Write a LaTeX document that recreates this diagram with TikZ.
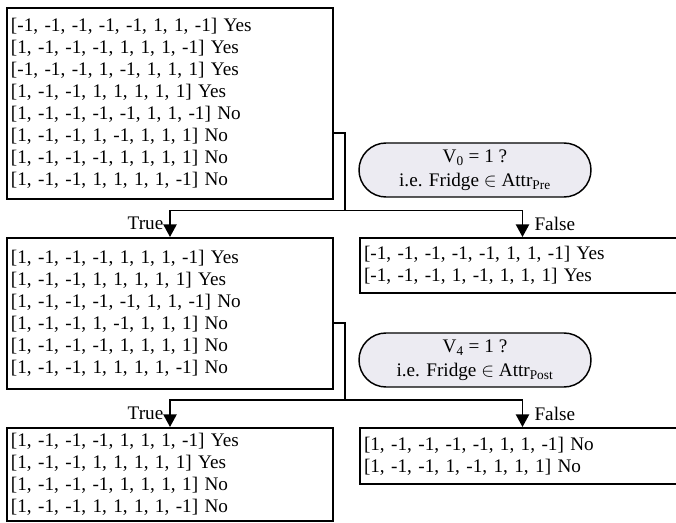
\documentclass[tikz,border=0pt]{standalone}
\usepackage{fontspec}
\setmainfont{Liberation Serif}
\usetikzlibrary{arrows.meta}

\definecolor{pillgray}{RGB}{236,235,242}

\begin{document}
\begin{tikzpicture}[x=0.75pt,y=-0.75pt,
    font=\fontsize{14.4}{16.5}\selectfont,
    set/.style={draw,line width=1.5pt,anchor=north west,align=left,
      inner xsep=3pt,inner ysep=0pt},
    test/.style={draw,line width=1.1pt,fill=pillgray,align=center,
      minimum width=174pt,minimum height=40.5pt,rounded corners=20.25pt,
      font=\fontsize{14.4}{18}\selectfont},
    wire/.style={line width=1.1pt},
    flow/.style={line width=1.1pt,-{Triangle[width=10pt,length=9.5pt]}},
    lbl/.style={inner sep=1pt}]
  \useasboundingbox (0,0) rectangle (676,523);

  % sets of samples
  \node[set,text width=238.5pt,minimum height=143.25pt] (A) at (6,7)
    {{[}-1, -1, -1, -1, -1, 1, 1, -1] Yes\\
     {[}1, -1, -1, -1, 1, 1, 1, -1] Yes\\
     {[}-1, -1, -1, 1, -1, 1, 1, 1] Yes\\
     {[}1, -1, -1, 1, 1, 1, 1, 1] Yes\\
     {[}1, -1, -1, -1, -1, 1, 1, -1] No\\
     {[}1, -1, -1, 1, -1, 1, 1, 1] No\\
     {[}1, -1, -1, -1, 1, 1, 1, 1] No\\
     {[}1, -1, -1, 1, 1, 1, 1, -1] No};
  \node[set,text width=238.5pt,minimum height=113.25pt] (B) at (6,237)
    {{[}1, -1, -1, -1, 1, 1, 1, -1] Yes\\
     {[}1, -1, -1, 1, 1, 1, 1, 1] Yes\\
     {[}1, -1, -1, -1, -1, 1, 1, -1] No\\
     {[}1, -1, -1, 1, -1, 1, 1, 1] No\\
     {[}1, -1, -1, -1, 1, 1, 1, 1] No\\
     {[}1, -1, -1, 1, 1, 1, 1, -1] No};
  \node[set,text width=237.75pt,minimum height=41.25pt] (C) at (359,237)
    {{[}-1, -1, -1, -1, -1, 1, 1, -1] Yes\\
     {[}-1, -1, -1, 1, -1, 1, 1, 1] Yes};
  \node[set,text width=238.5pt,minimum height=69.75pt] (E) at (6,427)
    {{[}1, -1, -1, -1, 1, 1, 1, -1] Yes\\
     {[}1, -1, -1, 1, 1, 1, 1, 1] Yes\\
     {[}1, -1, -1, -1, 1, 1, 1, 1] No\\
     {[}1, -1, -1, 1, 1, 1, 1, -1] No};
  \node[set,text width=237.75pt,minimum height=42pt] (F) at (359,427)
    {{[}1, -1, -1, -1, -1, 1, 1, -1] No\\
     {[}1, -1, -1, 1, -1, 1, 1, 1] No};

  % split tests
  \node[test] (T1) at (475,170)
    {V\textsubscript{0} = 1 ?\\ i.e. Fridge $\in$ Attr\textsubscript{Pre}};
  \node[test] (T2) at (475,360)
    {V\textsubscript{4} = 1 ?\\ i.e. Fridge $\in$ Attr\textsubscript{Post}};

  \coordinate (s1) at (345,210.5);
  \coordinate (s2) at (345,400);

  \begin{scope}
    \draw[wire] ([yshift=-22pt]A.east) -| (s1);
    \draw[flow] (s1) -| (B.north) node[lbl,pos=0.75,left=3.5pt] {True};
    \draw[flow] (s1) -| (C.north) node[lbl,pos=0.75,right=7.5pt] {False};
    \draw[wire] ([yshift=-7pt]B.east) -| (s2);
    \draw[flow] (s2) -| (E.north) node[lbl,pos=0.75,left=3.5pt] {True};
    \draw[flow] (s2) -| (F.north) node[lbl,pos=0.75,right=7.5pt] {False};
  \end{scope}
\end{tikzpicture}
\end{document}
